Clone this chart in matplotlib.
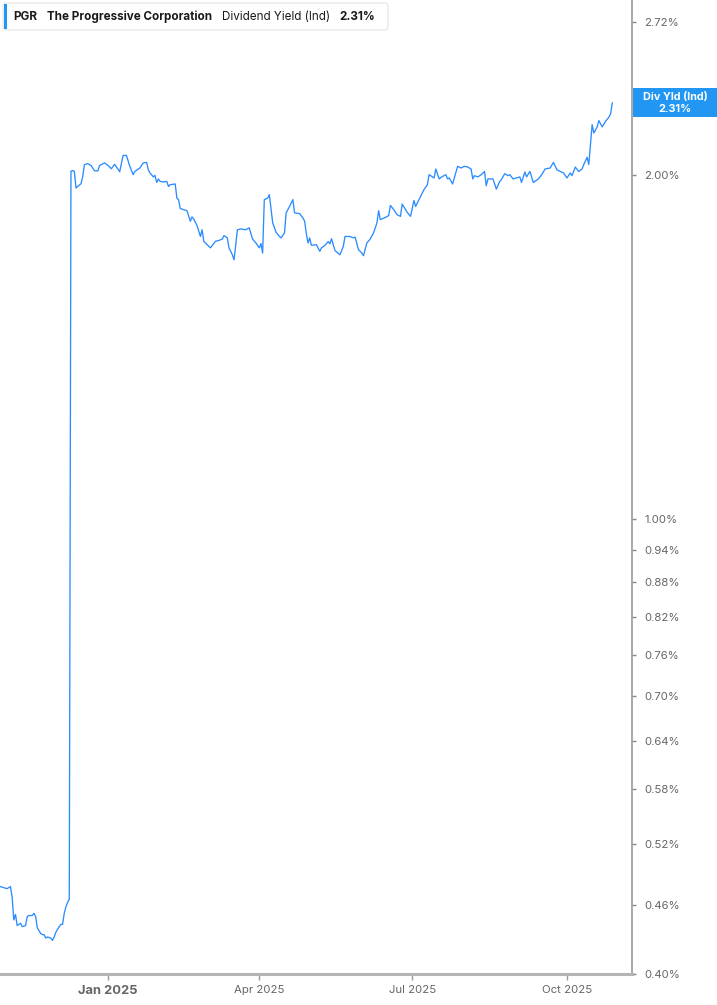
import matplotlib
matplotlib.use("Agg")
import matplotlib.pyplot as plt
import matplotlib.ticker as mticker
from matplotlib.patches import Rectangle, FancyBboxPatch
import pandas as pd

plt.rcParams["font.family"] = ["Inter", "DejaVu Sans"]

# ── data ──────────────────────────────────────────────────────────────────────
dates = [
    "2024-10-29", "2024-10-31", "2024-11-02", "2024-11-03", "2024-11-04", "2024-11-05",
    "2024-11-06", "2024-11-07", "2024-11-08", "2024-11-09", "2024-11-10", "2024-11-11",
    "2024-11-13", "2024-11-14", "2024-11-15", "2024-11-17", "2024-11-18", "2024-11-19",
    "2024-11-20", "2024-11-22", "2024-11-23", "2024-11-24", "2024-11-25", "2024-11-26",
    "2024-11-28", "2024-11-29", "2024-11-30", "2024-12-01", "2024-12-03", "2024-12-04",
    "2024-12-05", "2024-12-06", "2024-12-07", "2024-12-08", "2024-12-09", "2024-12-10",
    "2024-12-11", "2024-12-12", "2024-12-13", "2024-12-14", "2024-12-16", "2024-12-17",
    "2024-12-18", "2024-12-20", "2024-12-22", "2024-12-24", "2024-12-26", "2024-12-27",
    "2024-12-30", "2025-01-01", "2025-01-03", "2025-01-05", "2025-01-08", "2025-01-10",
    "2025-01-12", "2025-01-14", "2025-01-16", "2025-01-17", "2025-01-20", "2025-01-22",
    "2025-01-24", "2025-01-25", "2025-01-26", "2025-01-28", "2025-01-29", "2025-01-30",
    "2025-01-31", "2025-02-01", "2025-02-03", "2025-02-05", "2025-02-06", "2025-02-07",
    "2025-02-10", "2025-02-11", "2025-02-12", "2025-02-13", "2025-02-15", "2025-02-17",
    "2025-02-19", "2025-02-20", "2025-02-21", "2025-02-23", "2025-02-25", "2025-02-26",
    "2025-02-27", "2025-03-01", "2025-03-03", "2025-03-04", "2025-03-06", "2025-03-08",
    "2025-03-10", "2025-03-11", "2025-03-13", "2025-03-14", "2025-03-16", "2025-03-17",
    "2025-03-19", "2025-03-21", "2025-03-24", "2025-03-26", "2025-03-28", "2025-03-30",
    "2025-04-01", "2025-04-02", "2025-04-03", "2025-04-04", "2025-04-06", "2025-04-07",
    "2025-04-09", "2025-04-11", "2025-04-13", "2025-04-14", "2025-04-16", "2025-04-17",
    "2025-04-19", "2025-04-21", "2025-04-22", "2025-04-25", "2025-04-27", "2025-04-28",
    "2025-04-29", "2025-04-30", "2025-05-01", "2025-05-02", "2025-05-05", "2025-05-07",
    "2025-05-08", "2025-05-10", "2025-05-12", "2025-05-13", "2025-05-14", "2025-05-16",
    "2025-05-19", "2025-05-21", "2025-05-22", "2025-05-25", "2025-05-27", "2025-05-28",
    "2025-05-30", "2025-06-01", "2025-06-02", "2025-06-04", "2025-06-06", "2025-06-08",
    "2025-06-10", "2025-06-11", "2025-06-12", "2025-06-15", "2025-06-17", "2025-06-18",
    "2025-06-20", "2025-06-22", "2025-06-24", "2025-06-25", "2025-06-28", "2025-06-30",
    "2025-07-02", "2025-07-03", "2025-07-06", "2025-07-08", "2025-07-10", "2025-07-11",
    "2025-07-13", "2025-07-14", "2025-07-15", "2025-07-17", "2025-07-19", "2025-07-21",
    "2025-07-22", "2025-07-23", "2025-07-25", "2025-07-28", "2025-07-30", "2025-08-01",
    "2025-08-03", "2025-08-05", "2025-08-06", "2025-08-07", "2025-08-09", "2025-08-11",
    "2025-08-13", "2025-08-14", "2025-08-15", "2025-08-18", "2025-08-20", "2025-08-22",
    "2025-08-23", "2025-08-25", "2025-08-27", "2025-08-28", "2025-08-30", "2025-09-01",
    "2025-09-03", "2025-09-04", "2025-09-06", "2025-09-07", "2025-09-09", "2025-09-11",
    "2025-09-14", "2025-09-16", "2025-09-18", "2025-09-21", "2025-09-23", "2025-09-25",
    "2025-09-27", "2025-09-29", "2025-10-01", "2025-10-03", "2025-10-04", "2025-10-06",
    "2025-10-08", "2025-10-10", "2025-10-11", "2025-10-13", "2025-10-14", "2025-10-16",
    "2025-10-17", "2025-10-19", "2025-10-20", "2025-10-22", "2025-10-24", "2025-10-26",
    "2025-10-27", "2025-10-28",
]
div_yield = [
    0.477, 0.476, 0.475, 0.476, 0.477, 0.467,
    0.446, 0.451, 0.441, 0.442, 0.443, 0.440,
    0.441, 0.449, 0.450, 0.450, 0.452, 0.449,
    0.439, 0.434, 0.433, 0.433, 0.430, 0.431,
    0.430, 0.428, 0.431, 0.435, 0.440, 0.442,
    0.442, 0.452, 0.458, 0.462, 0.465, 2.014,
    2.017, 2.013, 1.947, 1.953, 1.964, 1.993,
    2.041, 2.045, 2.037, 2.016, 2.015, 2.037,
    2.048, 2.038, 2.024, 2.042, 2.012, 2.079,
    2.079, 2.034, 2.000, 2.013, 2.027, 2.048,
    2.050, 2.020, 2.007, 1.991, 1.997, 1.969,
    1.983, 1.973, 1.971, 1.973, 1.953, 1.960,
    1.963, 1.908, 1.902, 1.868, 1.864, 1.860,
    1.821, 1.837, 1.829, 1.805, 1.766, 1.790,
    1.749, 1.737, 1.726, 1.734, 1.749, 1.752,
    1.757, 1.769, 1.761, 1.726, 1.702, 1.685,
    1.790, 1.793, 1.790, 1.797, 1.757, 1.743,
    1.726, 1.741, 1.708, 1.902, 1.908, 1.921,
    1.815, 1.781, 1.766, 1.761, 1.779, 1.852,
    1.876, 1.902, 1.852, 1.849, 1.833, 1.821,
    1.776, 1.743, 1.761, 1.735, 1.737, 1.714,
    1.726, 1.734, 1.748, 1.740, 1.758, 1.717,
    1.702, 1.731, 1.766, 1.766, 1.761, 1.764,
    1.720, 1.708, 1.699, 1.743, 1.757, 1.779,
    1.815, 1.860, 1.827, 1.835, 1.842, 1.880,
    1.864, 1.845, 1.839, 1.885, 1.854, 1.839,
    1.899, 1.876, 1.915, 1.941, 1.960, 2.000,
    1.991, 1.987, 2.023, 1.983, 1.993, 2.000,
    1.983, 1.987, 1.963, 2.034, 2.027, 2.034,
    2.031, 2.023, 1.983, 1.996, 1.991, 2.000,
    2.013, 1.956, 1.983, 1.983, 1.943, 1.973,
    1.980, 2.004, 1.996, 2.000, 1.983, 1.987,
    1.991, 1.969, 2.011, 1.991, 2.013, 1.969,
    1.983, 2.000, 2.023, 2.027, 2.050, 2.020,
    2.013, 2.007, 1.987, 2.007, 1.996, 2.031,
    2.013, 2.023, 2.041, 2.071, 2.041, 2.212,
    2.175, 2.202, 2.230, 2.202, 2.227, 2.246,
    2.261, 2.311,
]

y_ticks = [0.40, 0.46, 0.52, 0.58, 0.64, 0.70, 0.76, 0.82, 0.88, 0.94, 1.00, 2.00, 2.72]
x_ticks = ["2025-01-01", "2025-04-01", "2025-07-01", "2025-10-01"]
x_labels = ["Jan 2025", "Apr 2025", "Jul 2025", "Oct 2025"]

ticker = "PGR"
company = "The Progressive Corporation"
metric = "Dividend Yield (Ind)"
last_label = "Div Yld (Ind)"

LINE = "#2b8cff"
BLUE = "#2196f3"
GREY = "#666666"

# ── plot ──────────────────────────────────────────────────────────────────────
W, H = 717, 1005
fig = plt.figure(figsize=(W / 100, H / 100), dpi=100)
ax = fig.add_axes([0, 31 / H, 632 / W, 1 - 31 / H])

x = pd.to_datetime(dates)
ax.plot(x, div_yield, color=LINE, linewidth=0.95)

ax.set_yscale("log")
ax.set_ylim(0.40, 2.843)
ax.set_xlim(pd.Timestamp("2024-10-28 19:00"), pd.Timestamp("2025-11-08 17:00"))

ax.yaxis.tick_right()
ax.yaxis.set_major_locator(mticker.FixedLocator(y_ticks))
ax.yaxis.set_major_formatter(mticker.FixedFormatter([f"{v:.2f}%" for v in y_ticks]))
ax.yaxis.set_minor_locator(mticker.NullLocator())
ax.tick_params(axis="y", which="major", direction="out", length=3, width=1,
               color="#888888", labelcolor=GREY, labelsize=8.2, pad=6)

ax.set_xticks(pd.to_datetime(x_ticks))
ax.set_xticklabels(x_labels)
ax.tick_params(axis="x", direction="out", length=4, width=1, color="#999999",
               labelcolor=GREY, labelsize=8.2, pad=4)
lab0 = ax.get_xticklabels()[0]
lab0.set_fontweight("bold")
lab0.set_fontsize(9.3)

for s in ["top", "left"]:
    ax.spines[s].set_visible(False)
ax.spines["right"].set_color("#999999")
ax.spines["right"].set_linewidth(1.2)
ax.spines["bottom"].set_color("#b4b4b4")
ax.spines["bottom"].set_linewidth(2.2)
ax.patch.set_visible(False)

# header box
fig.add_artist(FancyBboxPatch((3 / W, 1 - 30 / H), 385 / W, 27 / H,
                              boxstyle="round,pad=0,rounding_size=0.004",
                              transform=fig.transFigure, facecolor="white",
                              edgecolor="#e3e3e3", linewidth=0.8))
fig.add_artist(Rectangle((4 / W, 1 - 29 / H), 3 / W, 25 / H, transform=fig.transFigure,
                         facecolor=BLUE, edgecolor="none"))
ty = 1 - 17 / H
fig.text(13 / W, ty, ticker, fontsize=8.4, fontweight="bold", color="#1a1a1a", va="center")
fig.text(47 / W, ty, company, fontsize=8.4, fontweight="bold", color="#1a1a1a", va="center")
fig.text(222 / W, ty, metric, fontsize=8.4, color="#1a1a1a", va="center")
fig.text(339 / W, ty, f"{div_yield[-1]:.2f}%", fontsize=8.4, fontweight="bold",
         color="#1a1a1a", va="center")

# last value tag on the right axis
fig.canvas.draw()
y_disp = ax.transData.transform((ax.get_xlim()[0], div_yield[-1]))[1]
yc = y_disp / fig.bbox.height
fig.add_artist(Rectangle((633 / W, yc - 14.5 / H), 84 / W, 29 / H, transform=fig.transFigure,
                         facecolor=BLUE, edgecolor="none"))
fig.text(675 / W, yc + 6 / H, last_label, fontsize=7.8, fontweight="bold", color="white",
         ha="center", va="center")
fig.text(675 / W, yc - 6 / H, f"{div_yield[-1]:.2f}%", fontsize=7.8, fontweight="bold",
         color="white", ha="center", va="center")

fig.savefig("out.png", dpi=100)
